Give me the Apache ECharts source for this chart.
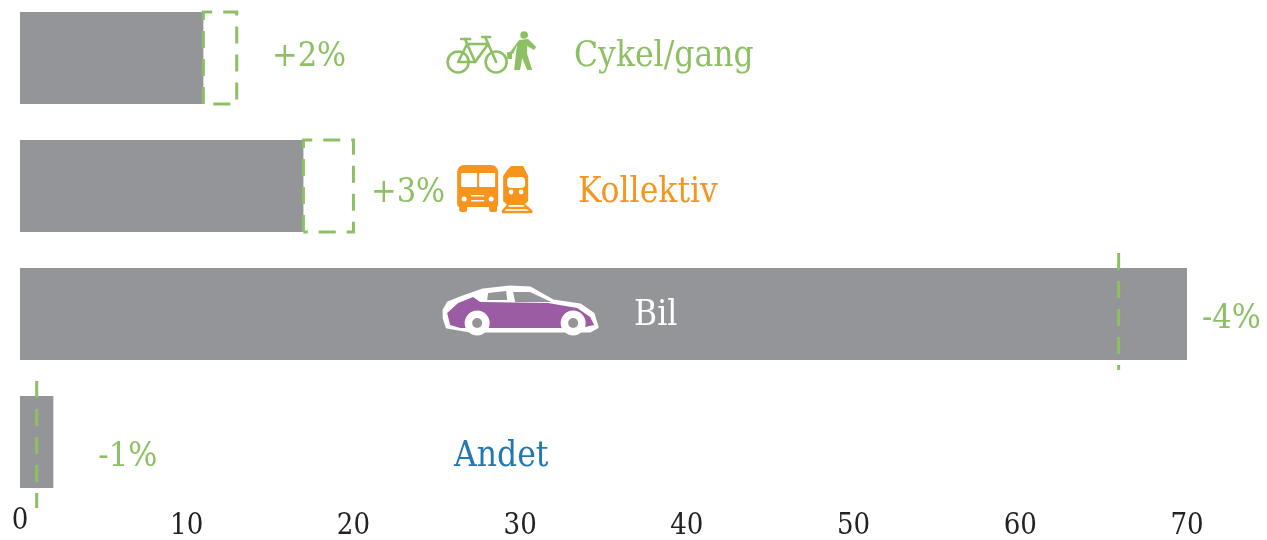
<!DOCTYPE html>
<html><head><meta charset="utf-8">
<style>html,body{margin:0;padding:0;background:#fff;overflow:hidden}#c{position:absolute;left:0;top:-6px;width:1267px;height:546px}</style>
<script src="https://cdn.jsdelivr.net/npm/echarts@6/dist/echarts.min.js"></script>
</head><body><div id="c"></div>
<script>
const categories = ['Cykel/gang', 'Kollektiv', 'Bil', 'Andet'];
const currentShare = [11, 17, 70, 2];
const targetShare = [13, 20, 65.9, 1];
const changeLabels = ['+2%', '+3%', '-4%', '-1%'];
const tickValues = [0, 10, 20, 30, 40, 50, 60, 70];

const GREEN = '#8dc063', ORANGE = '#f7941d', BLUE = '#2278b5', GREY = '#939598', PURPLE = '#9b5ca3';
const FONT = '"DejaVu Serif Condensed", "DejaVu Serif", serif';
const nameStyle = [
  { x: 574, dy: -1, fill: GREEN },
  { x: 578, dy: 7, fill: ORANGE },
  { x: 634, dy: 2, fill: '#ffffff' },
  { x: 454, dy: 15, fill: BLUE }
];
const changeStyle = [
  { gap: 35, dy: -1 }, { gap: 17, dy: 7 }, { gap: 15, dy: 5 }, { gap: 45, dy: 15 }
];

function poly(points, style, closed) {
  return { type: closed === false ? 'polyline' : 'polygon', shape: { points }, style, silent: true };
}
function circ(cx, cy, r, style) { return { type: 'circle', shape: { cx, cy, r }, style, silent: true }; }
function rect(x, y, width, height, r, style) { return { type: 'rect', shape: { x, y, width, height, r }, style, silent: true }; }

function bikeIcon() {
  const s = { fill: 'none', stroke: GREEN, lineWidth: 2.6, lineJoin: 'round', lineCap: 'round' };
  const f = { fill: GREEN };
  return [
    circ(-62, 4, 10.5, s), circ(-24, 4, 10.5, s),
    poly([[-62, 4], [-53, -14], [-32, -14], [-45, 4], [-62, 4]], s, false),
    poly([[-53, -14], [-45, 4]], s, false),
    poly([[-53, -14], [-55, -19]], s, false),
    poly([[-59, -19], [-50, -19]], s, false),
    poly([[-24, 4], [-35, -21]], s, false),
    poly([[-38, -21], [-30, -21]], s, false),
    circ(4, -23, 3.8, f),
    poly([[-1, -18], [8, -19], [16, -11], [14, -8], [7, -12], [7, -4], [12, 12], [7, 12], [2, 0], [0, 12], [-6, 12], [-4, -6], [-3, -13], [-7, -4], [-10, -6]], f),
    rect(-13, -6, 5, 7, 1, f)
  ];
}
function transitIcon() {
  const f = { fill: ORANGE }, w = { fill: '#ffffff' };
  const l = { fill: 'none', stroke: ORANGE, lineWidth: 2.4 };
  return [
    rect(-63, -21, 41, 42, [7, 7, 3, 3], f),
    rect(-61, 18, 8, 8, 2, f), rect(-31, 18, 8, 8, 2, f),
    rect(-59, -13, 16, 14, 1, w), rect(-41, -13, 16, 14, 1, w),
    circ(-56, 13, 2.5, w), circ(-29, 13, 2.5, w),
    rect(-49, 9, 13, 1.5, 0, w), rect(-49, 14, 13, 1.5, 0, w),
    poly([[-9, -20], [3, -20], [5, -16], [8, -10], [8, 15], [4, 19], [-13, 19], [-17, 15], [-17, -10], [-13, -16]], f),
    rect(-13, -9, 18, 11, 4, w),
    circ(-9, 6, 2.4, w), circ(1, 6, 2.4, w),
    poly([[-12, 19], [-18, 26]], l, false), poly([[4, 19], [12, 26]], l, false),
    poly([[-15, 22], [9, 22]], l, false), poly([[-18, 26], [12, 26]], l, false)
  ];
}
function carIcon() {
  const w = { fill: '#ffffff', stroke: '#ffffff', lineWidth: 3, lineJoin: 'round' }, p = { fill: PURPLE }, g = { fill: GREY };
  return [
    poly([[-73, 13], [-76, 4], [-76, -4], [-72, -11], [-57, -17], [-37, -24], [-10, -27], [10, -26], [33, -13], [60, -9], [73, 0], [77, 13], [70, 17], [-50, 17]], w),
    poly([[-70, 11], [-73, -1], [-62, -11], [-47, -17], [-40, -12], [28, -11], [57, -6], [70, 3], [74, 11], [60, 14], [-60, 14]], p),
    poly([[-32, -21], [-14, -23], [-13, -14], [-33, -14]], g),
    poly([[-7, -22], [10, -22], [31, -12], [-5, -12]], g),
    circ(-43, 9, 11, w), circ(-43, 9, 5, g),
    circ(53, 9, 11, w), circ(53, 9, 5, g)
  ];
}
const icons = [bikeIcon, transitIcon, carIcon, null];

const dash = { stroke: GREEN, lineWidth: 3, fill: 'none', lineDash: [17, 11] };

function renderRow(params, api) {
  const i = params.dataIndex;
  const cat = categories[i];
  const cy = api.coord([0, cat])[1];
  const half = api.size([0, 1])[1] * 0.36;
  const xCur = api.coord([currentShare[i], cat])[0];
  const xTgt = api.coord([targetShare[i], cat])[0];
  const kids = [];
  if (targetShare[i] > currentShare[i]) {
    kids.push({ type: 'polyline', silent: true, style: dash,
      shape: { points: [[xCur, cy + half], [xCur, cy - half], [xTgt, cy - half], [xTgt, cy + half], [xCur, cy + half]] } });
  } else {
    kids.push({ type: 'line', silent: true, style: dash,
      shape: { x1: xTgt, y1: cy - half - 15, x2: xTgt, y2: cy + half + 15 + (i === 3 ? 5 : -5) } });
  }
  const edge = Math.max(xCur, Math.ceil(xTgt));
  kids.push({ type: 'text', silent: true, style: {
    text: changeLabels[i], x: edge + changeStyle[i].gap, y: cy + changeStyle[i].dy,
    fill: GREEN, font: '34px ' + FONT, verticalAlign: 'middle', align: 'left' } });
  kids.push({ type: 'text', silent: true, style: {
    text: cat, x: nameStyle[i].x, y: cy + nameStyle[i].dy,
    fill: nameStyle[i].fill, font: '35px ' + FONT, verticalAlign: 'middle', align: 'left' } });
  if (icons[i]) {
    const a = api.coord([30, cat]);
    kids.push({ type: 'group', x: a[0], y: a[1], children: icons[i]() });
  }
  return { type: 'group', children: kids };
}

const chart = echarts.init(document.getElementById('c'), null, { renderer: 'canvas' });
chart.setOption({
  animation: false,
  backgroundColor: '#ffffff',
  grid: { left: 20, right: 80, top: 0, bottom: 34, containLabel: false, outerBoundsMode: 'none' },
  xAxis: {
    type: 'value', min: tickValues[0], max: tickValues[tickValues.length - 1], interval: 10,
    splitLine: { show: false }, axisLine: { show: false }, axisTick: { show: false },
    axisLabel: {
      margin: 6, color: '#222222', fontFamily: FONT, fontSize: 29,
      formatter: v => v === 0 ? '{zero|0}' : String(v),
      rich: { zero: { color: '#222222', fontFamily: FONT, fontSize: 29, lineHeight: 18 } }
    }
  },
  yAxis: { type: 'category', inverse: true, data: categories, show: false },
  series: [
    { type: 'bar', data: currentShare, barWidth: 92, itemStyle: { color: GREY }, silent: true },
    { type: 'custom', data: categories.map((c, i) => [targetShare[i], c]), encode: { x: 0, y: 1 }, renderItem: renderRow, silent: true, z: 5, clip: false }
  ]
});
</script></body></html>
